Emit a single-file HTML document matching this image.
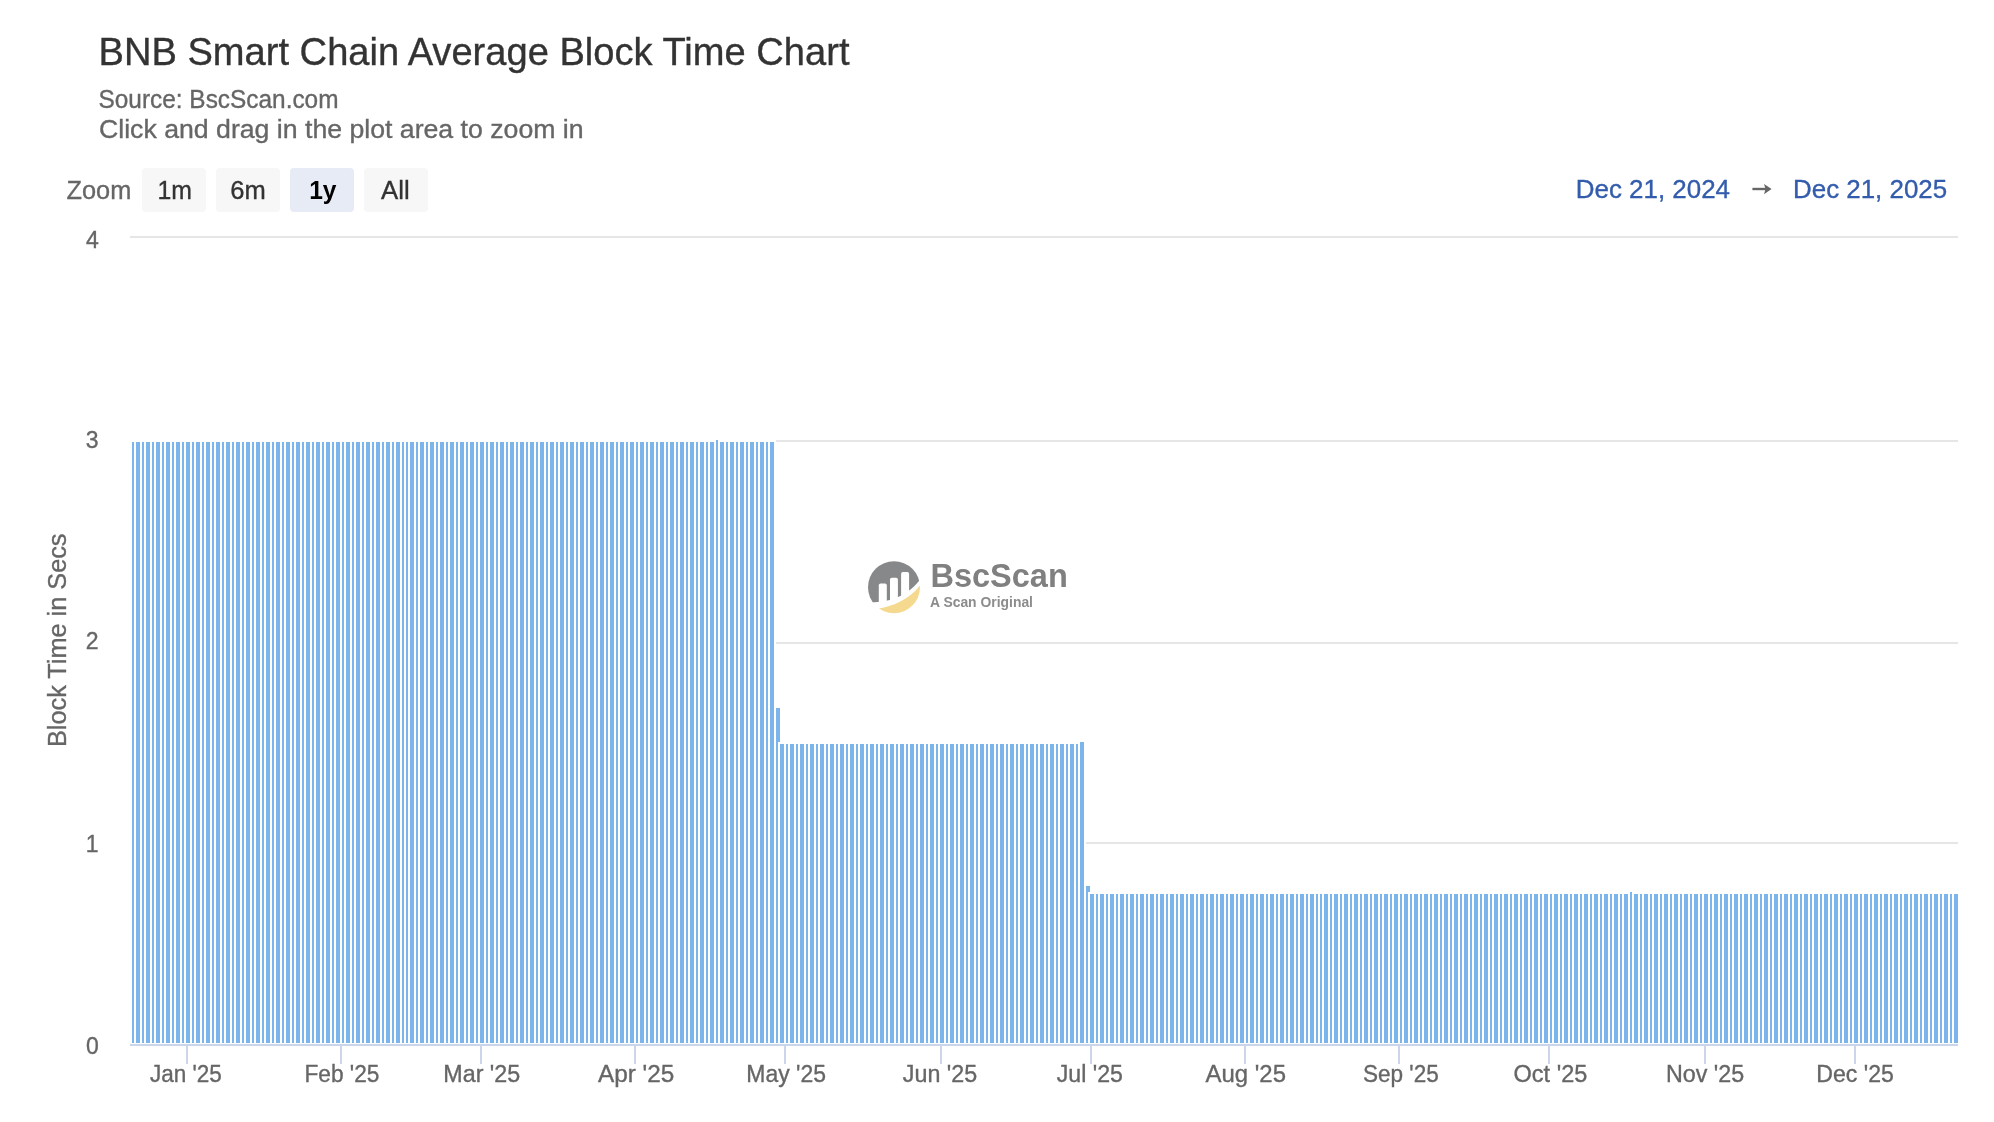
<!DOCTYPE html>
<html><head><meta charset="utf-8"><style>
html,body{margin:0;padding:0;background:#fff;}
body{width:1994px;height:1122px;overflow:hidden;}
svg{display:block;will-change:transform;font-family:"Liberation Sans",sans-serif;}
.xl{font-size:23.3px;fill:#666;stroke:#666;stroke-width:0.35px;}
.yl{font-size:23px;fill:#666;stroke:#666;stroke-width:0.35px;}
</style></head><body>
<svg width="1994" height="1122" viewBox="0 0 1994 1122">
<rect width="1994" height="1122" fill="#fff"/>
<text x="98.5" y="65" font-size="38.5" fill="#333" textLength="751" lengthAdjust="spacingAndGlyphs" stroke="#333" stroke-width="0.35">BNB Smart Chain Average Block Time Chart</text>
<text x="98.5" y="108" font-size="25.6" fill="#666" textLength="240" lengthAdjust="spacingAndGlyphs" stroke="#666" stroke-width="0.35">Source: BscScan.com</text>
<text x="99" y="137.6" font-size="25.6" fill="#666" textLength="484.6" lengthAdjust="spacingAndGlyphs" stroke="#666" stroke-width="0.35">Click and drag in the plot area to zoom in</text>
<text x="66.5" y="199" font-size="26" fill="#666" textLength="64.8" lengthAdjust="spacingAndGlyphs" stroke="#666" stroke-width="0.35">Zoom</text>
<rect x="142" y="168" width="64" height="44" rx="4" fill="#f7f7f7"/>
<rect x="216" y="168" width="64" height="44" rx="4" fill="#f7f7f7"/>
<rect x="290" y="168" width="64" height="44" rx="4" fill="#e6ebf5"/>
<rect x="364" y="168" width="64" height="44" rx="4" fill="#f7f7f7"/>
<text x="157.4" y="199" font-size="26" fill="#333" textLength="34.5" lengthAdjust="spacingAndGlyphs" stroke="#333" stroke-width="0.35">1m</text>
<text x="230.2" y="199" font-size="26" fill="#333" textLength="35.5" lengthAdjust="spacingAndGlyphs" stroke="#333" stroke-width="0.35">6m</text>
<text x="309.2" y="199" font-size="26" font-weight="bold" fill="#000" textLength="27.3" lengthAdjust="spacingAndGlyphs">1y</text>
<text x="381" y="199" font-size="26" fill="#333" textLength="28.7" lengthAdjust="spacingAndGlyphs" stroke="#333" stroke-width="0.35">All</text>
<text x="1575.8" y="198" font-size="25.6" fill="#335cad" textLength="154.2" lengthAdjust="spacingAndGlyphs" stroke="#335cad" stroke-width="0.35">Dec 21, 2024</text>
<text x="1793" y="198" font-size="25.6" fill="#335cad" textLength="154.2" lengthAdjust="spacingAndGlyphs" stroke="#335cad" stroke-width="0.35">Dec 21, 2025</text>
<path d="M1752.4 189H1767" stroke="#666" stroke-width="2.4"/><path d="M1764 184L1771.6 189L1764 194.2L1765.5 189Z" fill="#666"/>
<g shape-rendering="crispEdges">
<rect x="130" y="236" width="1828" height="2" fill="#e6e6e6"/>
<rect x="130" y="440" width="1828" height="2" fill="#e6e6e6"/>
<rect x="130" y="642" width="1828" height="2" fill="#e6e6e6"/>
<rect x="130" y="842" width="1828" height="2" fill="#e6e6e6"/>
</g>
<text x="98.7" y="247.7" text-anchor="end" class="yl">4</text>
<text x="98.5" y="448.4" text-anchor="end" class="yl">3</text>
<text x="98.5" y="649.4" text-anchor="end" class="yl">2</text>
<text x="98.5" y="851.8" text-anchor="end" class="yl">1</text>
<text x="98.8" y="1054" text-anchor="end" class="yl">0</text>
<text transform="translate(66.4,747) rotate(-90)" font-size="26.5" fill="#666" textLength="213.5" lengthAdjust="spacingAndGlyphs" stroke="#666" stroke-width="0.35">Block Time in Secs</text>
<svg x="0" y="0" width="1958" height="1122" overflow="hidden">
<g shape-rendering="crispEdges">
<rect x="131" y="441" width="4" height="603" fill="#7cb5ec" stroke="#fff" stroke-width="2"/>
<rect x="135" y="441" width="6" height="603" fill="#7cb5ec" stroke="#fff" stroke-width="2"/>
<rect x="141" y="441" width="4" height="603" fill="#7cb5ec" stroke="#fff" stroke-width="2"/>
<rect x="145" y="441" width="6" height="603" fill="#7cb5ec" stroke="#fff" stroke-width="2"/>
<rect x="151" y="441" width="4" height="603" fill="#7cb5ec" stroke="#fff" stroke-width="2"/>
<rect x="155" y="441" width="6" height="603" fill="#7cb5ec" stroke="#fff" stroke-width="2"/>
<rect x="161" y="441" width="4" height="603" fill="#7cb5ec" stroke="#fff" stroke-width="2"/>
<rect x="165" y="441" width="6" height="603" fill="#7cb5ec" stroke="#fff" stroke-width="2"/>
<rect x="171" y="441" width="4" height="603" fill="#7cb5ec" stroke="#fff" stroke-width="2"/>
<rect x="175" y="441" width="6" height="603" fill="#7cb5ec" stroke="#fff" stroke-width="2"/>
<rect x="181" y="441" width="4" height="603" fill="#7cb5ec" stroke="#fff" stroke-width="2"/>
<rect x="185" y="441" width="6" height="603" fill="#7cb5ec" stroke="#fff" stroke-width="2"/>
<rect x="191" y="441" width="4" height="603" fill="#7cb5ec" stroke="#fff" stroke-width="2"/>
<rect x="195" y="441" width="6" height="603" fill="#7cb5ec" stroke="#fff" stroke-width="2"/>
<rect x="201" y="441" width="4" height="603" fill="#7cb5ec" stroke="#fff" stroke-width="2"/>
<rect x="205" y="441" width="6" height="603" fill="#7cb5ec" stroke="#fff" stroke-width="2"/>
<rect x="211" y="441" width="4" height="603" fill="#7cb5ec" stroke="#fff" stroke-width="2"/>
<rect x="215" y="441" width="6" height="603" fill="#7cb5ec" stroke="#fff" stroke-width="2"/>
<rect x="221" y="441" width="4" height="603" fill="#7cb5ec" stroke="#fff" stroke-width="2"/>
<rect x="225" y="441" width="6" height="603" fill="#7cb5ec" stroke="#fff" stroke-width="2"/>
<rect x="231" y="441" width="4" height="603" fill="#7cb5ec" stroke="#fff" stroke-width="2"/>
<rect x="235" y="441" width="6" height="603" fill="#7cb5ec" stroke="#fff" stroke-width="2"/>
<rect x="241" y="441" width="4" height="603" fill="#7cb5ec" stroke="#fff" stroke-width="2"/>
<rect x="245" y="441" width="6" height="603" fill="#7cb5ec" stroke="#fff" stroke-width="2"/>
<rect x="251" y="441" width="4" height="603" fill="#7cb5ec" stroke="#fff" stroke-width="2"/>
<rect x="255" y="441" width="6" height="603" fill="#7cb5ec" stroke="#fff" stroke-width="2"/>
<rect x="261" y="441" width="4" height="603" fill="#7cb5ec" stroke="#fff" stroke-width="2"/>
<rect x="265" y="441" width="6" height="603" fill="#7cb5ec" stroke="#fff" stroke-width="2"/>
<rect x="271" y="441" width="4" height="603" fill="#7cb5ec" stroke="#fff" stroke-width="2"/>
<rect x="275" y="441" width="6" height="603" fill="#7cb5ec" stroke="#fff" stroke-width="2"/>
<rect x="281" y="441" width="4" height="603" fill="#7cb5ec" stroke="#fff" stroke-width="2"/>
<rect x="285" y="441" width="6" height="603" fill="#7cb5ec" stroke="#fff" stroke-width="2"/>
<rect x="291" y="441" width="4" height="603" fill="#7cb5ec" stroke="#fff" stroke-width="2"/>
<rect x="295" y="441" width="6" height="603" fill="#7cb5ec" stroke="#fff" stroke-width="2"/>
<rect x="301" y="441" width="4" height="603" fill="#7cb5ec" stroke="#fff" stroke-width="2"/>
<rect x="305" y="441" width="6" height="603" fill="#7cb5ec" stroke="#fff" stroke-width="2"/>
<rect x="311" y="441" width="4" height="603" fill="#7cb5ec" stroke="#fff" stroke-width="2"/>
<rect x="315" y="441" width="6" height="603" fill="#7cb5ec" stroke="#fff" stroke-width="2"/>
<rect x="321" y="441" width="4" height="603" fill="#7cb5ec" stroke="#fff" stroke-width="2"/>
<rect x="325" y="441" width="6" height="603" fill="#7cb5ec" stroke="#fff" stroke-width="2"/>
<rect x="331" y="441" width="4" height="603" fill="#7cb5ec" stroke="#fff" stroke-width="2"/>
<rect x="335" y="441" width="6" height="603" fill="#7cb5ec" stroke="#fff" stroke-width="2"/>
<rect x="341" y="441" width="4" height="603" fill="#7cb5ec" stroke="#fff" stroke-width="2"/>
<rect x="345" y="441" width="6" height="603" fill="#7cb5ec" stroke="#fff" stroke-width="2"/>
<rect x="351" y="441" width="4" height="603" fill="#7cb5ec" stroke="#fff" stroke-width="2"/>
<rect x="355" y="441" width="6" height="603" fill="#7cb5ec" stroke="#fff" stroke-width="2"/>
<rect x="361" y="441" width="4" height="603" fill="#7cb5ec" stroke="#fff" stroke-width="2"/>
<rect x="365" y="441" width="6" height="603" fill="#7cb5ec" stroke="#fff" stroke-width="2"/>
<rect x="371" y="441" width="4" height="603" fill="#7cb5ec" stroke="#fff" stroke-width="2"/>
<rect x="375" y="441" width="6" height="603" fill="#7cb5ec" stroke="#fff" stroke-width="2"/>
<rect x="381" y="441" width="4" height="603" fill="#7cb5ec" stroke="#fff" stroke-width="2"/>
<rect x="385" y="441" width="6" height="603" fill="#7cb5ec" stroke="#fff" stroke-width="2"/>
<rect x="391" y="441" width="4" height="603" fill="#7cb5ec" stroke="#fff" stroke-width="2"/>
<rect x="395" y="441" width="6" height="603" fill="#7cb5ec" stroke="#fff" stroke-width="2"/>
<rect x="401" y="441" width="4" height="603" fill="#7cb5ec" stroke="#fff" stroke-width="2"/>
<rect x="405" y="441" width="4" height="603" fill="#7cb5ec" stroke="#fff" stroke-width="2"/>
<rect x="409" y="441" width="6" height="603" fill="#7cb5ec" stroke="#fff" stroke-width="2"/>
<rect x="415" y="441" width="4" height="603" fill="#7cb5ec" stroke="#fff" stroke-width="2"/>
<rect x="419" y="441" width="6" height="603" fill="#7cb5ec" stroke="#fff" stroke-width="2"/>
<rect x="425" y="441" width="4" height="603" fill="#7cb5ec" stroke="#fff" stroke-width="2"/>
<rect x="429" y="441" width="6" height="603" fill="#7cb5ec" stroke="#fff" stroke-width="2"/>
<rect x="435" y="441" width="4" height="603" fill="#7cb5ec" stroke="#fff" stroke-width="2"/>
<rect x="439" y="441" width="6" height="603" fill="#7cb5ec" stroke="#fff" stroke-width="2"/>
<rect x="445" y="441" width="4" height="603" fill="#7cb5ec" stroke="#fff" stroke-width="2"/>
<rect x="449" y="441" width="6" height="603" fill="#7cb5ec" stroke="#fff" stroke-width="2"/>
<rect x="455" y="441" width="4" height="603" fill="#7cb5ec" stroke="#fff" stroke-width="2"/>
<rect x="459" y="441" width="6" height="603" fill="#7cb5ec" stroke="#fff" stroke-width="2"/>
<rect x="465" y="441" width="4" height="603" fill="#7cb5ec" stroke="#fff" stroke-width="2"/>
<rect x="469" y="441" width="6" height="603" fill="#7cb5ec" stroke="#fff" stroke-width="2"/>
<rect x="475" y="441" width="4" height="603" fill="#7cb5ec" stroke="#fff" stroke-width="2"/>
<rect x="479" y="441" width="6" height="603" fill="#7cb5ec" stroke="#fff" stroke-width="2"/>
<rect x="485" y="441" width="4" height="603" fill="#7cb5ec" stroke="#fff" stroke-width="2"/>
<rect x="489" y="441" width="6" height="603" fill="#7cb5ec" stroke="#fff" stroke-width="2"/>
<rect x="495" y="441" width="4" height="603" fill="#7cb5ec" stroke="#fff" stroke-width="2"/>
<rect x="499" y="441" width="6" height="603" fill="#7cb5ec" stroke="#fff" stroke-width="2"/>
<rect x="505" y="441" width="4" height="603" fill="#7cb5ec" stroke="#fff" stroke-width="2"/>
<rect x="509" y="441" width="6" height="603" fill="#7cb5ec" stroke="#fff" stroke-width="2"/>
<rect x="515" y="441" width="4" height="603" fill="#7cb5ec" stroke="#fff" stroke-width="2"/>
<rect x="519" y="441" width="6" height="603" fill="#7cb5ec" stroke="#fff" stroke-width="2"/>
<rect x="525" y="441" width="4" height="603" fill="#7cb5ec" stroke="#fff" stroke-width="2"/>
<rect x="529" y="441" width="6" height="603" fill="#7cb5ec" stroke="#fff" stroke-width="2"/>
<rect x="535" y="441" width="4" height="603" fill="#7cb5ec" stroke="#fff" stroke-width="2"/>
<rect x="539" y="441" width="6" height="603" fill="#7cb5ec" stroke="#fff" stroke-width="2"/>
<rect x="545" y="441" width="4" height="603" fill="#7cb5ec" stroke="#fff" stroke-width="2"/>
<rect x="549" y="441" width="6" height="603" fill="#7cb5ec" stroke="#fff" stroke-width="2"/>
<rect x="555" y="441" width="4" height="603" fill="#7cb5ec" stroke="#fff" stroke-width="2"/>
<rect x="559" y="441" width="6" height="603" fill="#7cb5ec" stroke="#fff" stroke-width="2"/>
<rect x="565" y="441" width="4" height="603" fill="#7cb5ec" stroke="#fff" stroke-width="2"/>
<rect x="569" y="441" width="6" height="603" fill="#7cb5ec" stroke="#fff" stroke-width="2"/>
<rect x="575" y="441" width="4" height="603" fill="#7cb5ec" stroke="#fff" stroke-width="2"/>
<rect x="579" y="441" width="6" height="603" fill="#7cb5ec" stroke="#fff" stroke-width="2"/>
<rect x="585" y="441" width="4" height="603" fill="#7cb5ec" stroke="#fff" stroke-width="2"/>
<rect x="589" y="441" width="6" height="603" fill="#7cb5ec" stroke="#fff" stroke-width="2"/>
<rect x="595" y="441" width="4" height="603" fill="#7cb5ec" stroke="#fff" stroke-width="2"/>
<rect x="599" y="441" width="6" height="603" fill="#7cb5ec" stroke="#fff" stroke-width="2"/>
<rect x="605" y="441" width="4" height="603" fill="#7cb5ec" stroke="#fff" stroke-width="2"/>
<rect x="609" y="441" width="6" height="603" fill="#7cb5ec" stroke="#fff" stroke-width="2"/>
<rect x="615" y="441" width="4" height="603" fill="#7cb5ec" stroke="#fff" stroke-width="2"/>
<rect x="619" y="441" width="6" height="603" fill="#7cb5ec" stroke="#fff" stroke-width="2"/>
<rect x="625" y="441" width="4" height="603" fill="#7cb5ec" stroke="#fff" stroke-width="2"/>
<rect x="629" y="441" width="6" height="603" fill="#7cb5ec" stroke="#fff" stroke-width="2"/>
<rect x="635" y="441" width="4" height="603" fill="#7cb5ec" stroke="#fff" stroke-width="2"/>
<rect x="639" y="441" width="6" height="603" fill="#7cb5ec" stroke="#fff" stroke-width="2"/>
<rect x="645" y="441" width="4" height="603" fill="#7cb5ec" stroke="#fff" stroke-width="2"/>
<rect x="649" y="441" width="6" height="603" fill="#7cb5ec" stroke="#fff" stroke-width="2"/>
<rect x="655" y="441" width="4" height="603" fill="#7cb5ec" stroke="#fff" stroke-width="2"/>
<rect x="659" y="441" width="6" height="603" fill="#7cb5ec" stroke="#fff" stroke-width="2"/>
<rect x="665" y="441" width="4" height="603" fill="#7cb5ec" stroke="#fff" stroke-width="2"/>
<rect x="669" y="441" width="6" height="603" fill="#7cb5ec" stroke="#fff" stroke-width="2"/>
<rect x="675" y="441" width="4" height="603" fill="#7cb5ec" stroke="#fff" stroke-width="2"/>
<rect x="679" y="441" width="6" height="603" fill="#7cb5ec" stroke="#fff" stroke-width="2"/>
<rect x="685" y="441" width="4" height="603" fill="#7cb5ec" stroke="#fff" stroke-width="2"/>
<rect x="689" y="441" width="6" height="603" fill="#7cb5ec" stroke="#fff" stroke-width="2"/>
<rect x="695" y="441" width="4" height="603" fill="#7cb5ec" stroke="#fff" stroke-width="2"/>
<rect x="699" y="441" width="6" height="603" fill="#7cb5ec" stroke="#fff" stroke-width="2"/>
<rect x="705" y="441" width="4" height="603" fill="#7cb5ec" stroke="#fff" stroke-width="2"/>
<rect x="709" y="441" width="6" height="603" fill="#7cb5ec" stroke="#fff" stroke-width="2"/>
<rect x="715" y="439" width="4" height="605" fill="#7cb5ec" stroke="#fff" stroke-width="2"/>
<rect x="719" y="441" width="6" height="603" fill="#7cb5ec" stroke="#fff" stroke-width="2"/>
<rect x="725" y="441" width="4" height="603" fill="#7cb5ec" stroke="#fff" stroke-width="2"/>
<rect x="729" y="441" width="6" height="603" fill="#7cb5ec" stroke="#fff" stroke-width="2"/>
<rect x="735" y="441" width="4" height="603" fill="#7cb5ec" stroke="#fff" stroke-width="2"/>
<rect x="739" y="441" width="6" height="603" fill="#7cb5ec" stroke="#fff" stroke-width="2"/>
<rect x="745" y="441" width="4" height="603" fill="#7cb5ec" stroke="#fff" stroke-width="2"/>
<rect x="749" y="441" width="6" height="603" fill="#7cb5ec" stroke="#fff" stroke-width="2"/>
<rect x="755" y="441" width="4" height="603" fill="#7cb5ec" stroke="#fff" stroke-width="2"/>
<rect x="759" y="441" width="6" height="603" fill="#7cb5ec" stroke="#fff" stroke-width="2"/>
<rect x="765" y="441" width="4" height="603" fill="#7cb5ec" stroke="#fff" stroke-width="2"/>
<rect x="769" y="441" width="6" height="603" fill="#7cb5ec" stroke="#fff" stroke-width="2"/>
<rect x="775" y="707" width="6" height="337" fill="#7cb5ec" stroke="#fff" stroke-width="2"/>
<rect x="779" y="743" width="6" height="301" fill="#7cb5ec" stroke="#fff" stroke-width="2"/>
<rect x="785" y="743" width="4" height="301" fill="#7cb5ec" stroke="#fff" stroke-width="2"/>
<rect x="789" y="743" width="6" height="301" fill="#7cb5ec" stroke="#fff" stroke-width="2"/>
<rect x="795" y="743" width="4" height="301" fill="#7cb5ec" stroke="#fff" stroke-width="2"/>
<rect x="799" y="743" width="6" height="301" fill="#7cb5ec" stroke="#fff" stroke-width="2"/>
<rect x="805" y="743" width="4" height="301" fill="#7cb5ec" stroke="#fff" stroke-width="2"/>
<rect x="809" y="743" width="6" height="301" fill="#7cb5ec" stroke="#fff" stroke-width="2"/>
<rect x="815" y="743" width="4" height="301" fill="#7cb5ec" stroke="#fff" stroke-width="2"/>
<rect x="819" y="743" width="6" height="301" fill="#7cb5ec" stroke="#fff" stroke-width="2"/>
<rect x="825" y="743" width="4" height="301" fill="#7cb5ec" stroke="#fff" stroke-width="2"/>
<rect x="829" y="743" width="6" height="301" fill="#7cb5ec" stroke="#fff" stroke-width="2"/>
<rect x="835" y="743" width="4" height="301" fill="#7cb5ec" stroke="#fff" stroke-width="2"/>
<rect x="839" y="743" width="6" height="301" fill="#7cb5ec" stroke="#fff" stroke-width="2"/>
<rect x="845" y="743" width="4" height="301" fill="#7cb5ec" stroke="#fff" stroke-width="2"/>
<rect x="849" y="743" width="6" height="301" fill="#7cb5ec" stroke="#fff" stroke-width="2"/>
<rect x="855" y="743" width="4" height="301" fill="#7cb5ec" stroke="#fff" stroke-width="2"/>
<rect x="859" y="743" width="6" height="301" fill="#7cb5ec" stroke="#fff" stroke-width="2"/>
<rect x="865" y="743" width="4" height="301" fill="#7cb5ec" stroke="#fff" stroke-width="2"/>
<rect x="869" y="743" width="6" height="301" fill="#7cb5ec" stroke="#fff" stroke-width="2"/>
<rect x="875" y="743" width="4" height="301" fill="#7cb5ec" stroke="#fff" stroke-width="2"/>
<rect x="879" y="743" width="6" height="301" fill="#7cb5ec" stroke="#fff" stroke-width="2"/>
<rect x="885" y="743" width="4" height="301" fill="#7cb5ec" stroke="#fff" stroke-width="2"/>
<rect x="889" y="743" width="6" height="301" fill="#7cb5ec" stroke="#fff" stroke-width="2"/>
<rect x="895" y="743" width="4" height="301" fill="#7cb5ec" stroke="#fff" stroke-width="2"/>
<rect x="899" y="743" width="6" height="301" fill="#7cb5ec" stroke="#fff" stroke-width="2"/>
<rect x="905" y="743" width="4" height="301" fill="#7cb5ec" stroke="#fff" stroke-width="2"/>
<rect x="909" y="743" width="6" height="301" fill="#7cb5ec" stroke="#fff" stroke-width="2"/>
<rect x="915" y="743" width="4" height="301" fill="#7cb5ec" stroke="#fff" stroke-width="2"/>
<rect x="919" y="743" width="6" height="301" fill="#7cb5ec" stroke="#fff" stroke-width="2"/>
<rect x="925" y="743" width="4" height="301" fill="#7cb5ec" stroke="#fff" stroke-width="2"/>
<rect x="929" y="743" width="6" height="301" fill="#7cb5ec" stroke="#fff" stroke-width="2"/>
<rect x="935" y="743" width="4" height="301" fill="#7cb5ec" stroke="#fff" stroke-width="2"/>
<rect x="939" y="743" width="6" height="301" fill="#7cb5ec" stroke="#fff" stroke-width="2"/>
<rect x="945" y="743" width="4" height="301" fill="#7cb5ec" stroke="#fff" stroke-width="2"/>
<rect x="949" y="743" width="6" height="301" fill="#7cb5ec" stroke="#fff" stroke-width="2"/>
<rect x="955" y="743" width="4" height="301" fill="#7cb5ec" stroke="#fff" stroke-width="2"/>
<rect x="959" y="743" width="6" height="301" fill="#7cb5ec" stroke="#fff" stroke-width="2"/>
<rect x="965" y="743" width="4" height="301" fill="#7cb5ec" stroke="#fff" stroke-width="2"/>
<rect x="969" y="743" width="6" height="301" fill="#7cb5ec" stroke="#fff" stroke-width="2"/>
<rect x="975" y="743" width="4" height="301" fill="#7cb5ec" stroke="#fff" stroke-width="2"/>
<rect x="979" y="743" width="6" height="301" fill="#7cb5ec" stroke="#fff" stroke-width="2"/>
<rect x="985" y="743" width="4" height="301" fill="#7cb5ec" stroke="#fff" stroke-width="2"/>
<rect x="989" y="743" width="6" height="301" fill="#7cb5ec" stroke="#fff" stroke-width="2"/>
<rect x="995" y="743" width="4" height="301" fill="#7cb5ec" stroke="#fff" stroke-width="2"/>
<rect x="999" y="743" width="6" height="301" fill="#7cb5ec" stroke="#fff" stroke-width="2"/>
<rect x="1005" y="743" width="4" height="301" fill="#7cb5ec" stroke="#fff" stroke-width="2"/>
<rect x="1009" y="743" width="6" height="301" fill="#7cb5ec" stroke="#fff" stroke-width="2"/>
<rect x="1015" y="743" width="4" height="301" fill="#7cb5ec" stroke="#fff" stroke-width="2"/>
<rect x="1019" y="743" width="6" height="301" fill="#7cb5ec" stroke="#fff" stroke-width="2"/>
<rect x="1025" y="743" width="4" height="301" fill="#7cb5ec" stroke="#fff" stroke-width="2"/>
<rect x="1029" y="743" width="6" height="301" fill="#7cb5ec" stroke="#fff" stroke-width="2"/>
<rect x="1035" y="743" width="4" height="301" fill="#7cb5ec" stroke="#fff" stroke-width="2"/>
<rect x="1039" y="743" width="6" height="301" fill="#7cb5ec" stroke="#fff" stroke-width="2"/>
<rect x="1045" y="743" width="4" height="301" fill="#7cb5ec" stroke="#fff" stroke-width="2"/>
<rect x="1049" y="743" width="6" height="301" fill="#7cb5ec" stroke="#fff" stroke-width="2"/>
<rect x="1055" y="743" width="4" height="301" fill="#7cb5ec" stroke="#fff" stroke-width="2"/>
<rect x="1059" y="743" width="6" height="301" fill="#7cb5ec" stroke="#fff" stroke-width="2"/>
<rect x="1065" y="743" width="4" height="301" fill="#7cb5ec" stroke="#fff" stroke-width="2"/>
<rect x="1069" y="743" width="6" height="301" fill="#7cb5ec" stroke="#fff" stroke-width="2"/>
<rect x="1075" y="743" width="4" height="301" fill="#7cb5ec" stroke="#fff" stroke-width="2"/>
<rect x="1079" y="741" width="6" height="303" fill="#7cb5ec" stroke="#fff" stroke-width="2"/>
<rect x="1085" y="885" width="6" height="159" fill="#7cb5ec" stroke="#fff" stroke-width="2"/>
<rect x="1089" y="893" width="6" height="151" fill="#7cb5ec" stroke="#fff" stroke-width="2"/>
<rect x="1095" y="893" width="4" height="151" fill="#7cb5ec" stroke="#fff" stroke-width="2"/>
<rect x="1099" y="893" width="6" height="151" fill="#7cb5ec" stroke="#fff" stroke-width="2"/>
<rect x="1105" y="893" width="4" height="151" fill="#7cb5ec" stroke="#fff" stroke-width="2"/>
<rect x="1109" y="893" width="6" height="151" fill="#7cb5ec" stroke="#fff" stroke-width="2"/>
<rect x="1115" y="893" width="4" height="151" fill="#7cb5ec" stroke="#fff" stroke-width="2"/>
<rect x="1119" y="893" width="6" height="151" fill="#7cb5ec" stroke="#fff" stroke-width="2"/>
<rect x="1125" y="893" width="4" height="151" fill="#7cb5ec" stroke="#fff" stroke-width="2"/>
<rect x="1129" y="893" width="6" height="151" fill="#7cb5ec" stroke="#fff" stroke-width="2"/>
<rect x="1135" y="893" width="4" height="151" fill="#7cb5ec" stroke="#fff" stroke-width="2"/>
<rect x="1139" y="893" width="6" height="151" fill="#7cb5ec" stroke="#fff" stroke-width="2"/>
<rect x="1145" y="893" width="4" height="151" fill="#7cb5ec" stroke="#fff" stroke-width="2"/>
<rect x="1149" y="893" width="6" height="151" fill="#7cb5ec" stroke="#fff" stroke-width="2"/>
<rect x="1155" y="893" width="4" height="151" fill="#7cb5ec" stroke="#fff" stroke-width="2"/>
<rect x="1159" y="893" width="6" height="151" fill="#7cb5ec" stroke="#fff" stroke-width="2"/>
<rect x="1165" y="893" width="4" height="151" fill="#7cb5ec" stroke="#fff" stroke-width="2"/>
<rect x="1169" y="893" width="6" height="151" fill="#7cb5ec" stroke="#fff" stroke-width="2"/>
<rect x="1175" y="893" width="4" height="151" fill="#7cb5ec" stroke="#fff" stroke-width="2"/>
<rect x="1179" y="893" width="6" height="151" fill="#7cb5ec" stroke="#fff" stroke-width="2"/>
<rect x="1185" y="893" width="4" height="151" fill="#7cb5ec" stroke="#fff" stroke-width="2"/>
<rect x="1189" y="893" width="6" height="151" fill="#7cb5ec" stroke="#fff" stroke-width="2"/>
<rect x="1195" y="893" width="4" height="151" fill="#7cb5ec" stroke="#fff" stroke-width="2"/>
<rect x="1199" y="893" width="6" height="151" fill="#7cb5ec" stroke="#fff" stroke-width="2"/>
<rect x="1205" y="893" width="4" height="151" fill="#7cb5ec" stroke="#fff" stroke-width="2"/>
<rect x="1209" y="893" width="6" height="151" fill="#7cb5ec" stroke="#fff" stroke-width="2"/>
<rect x="1215" y="893" width="4" height="151" fill="#7cb5ec" stroke="#fff" stroke-width="2"/>
<rect x="1219" y="893" width="6" height="151" fill="#7cb5ec" stroke="#fff" stroke-width="2"/>
<rect x="1225" y="893" width="4" height="151" fill="#7cb5ec" stroke="#fff" stroke-width="2"/>
<rect x="1229" y="893" width="6" height="151" fill="#7cb5ec" stroke="#fff" stroke-width="2"/>
<rect x="1235" y="893" width="4" height="151" fill="#7cb5ec" stroke="#fff" stroke-width="2"/>
<rect x="1239" y="893" width="6" height="151" fill="#7cb5ec" stroke="#fff" stroke-width="2"/>
<rect x="1245" y="893" width="4" height="151" fill="#7cb5ec" stroke="#fff" stroke-width="2"/>
<rect x="1249" y="893" width="6" height="151" fill="#7cb5ec" stroke="#fff" stroke-width="2"/>
<rect x="1255" y="893" width="4" height="151" fill="#7cb5ec" stroke="#fff" stroke-width="2"/>
<rect x="1259" y="893" width="6" height="151" fill="#7cb5ec" stroke="#fff" stroke-width="2"/>
<rect x="1265" y="893" width="4" height="151" fill="#7cb5ec" stroke="#fff" stroke-width="2"/>
<rect x="1269" y="893" width="6" height="151" fill="#7cb5ec" stroke="#fff" stroke-width="2"/>
<rect x="1275" y="893" width="4" height="151" fill="#7cb5ec" stroke="#fff" stroke-width="2"/>
<rect x="1279" y="893" width="6" height="151" fill="#7cb5ec" stroke="#fff" stroke-width="2"/>
<rect x="1285" y="893" width="4" height="151" fill="#7cb5ec" stroke="#fff" stroke-width="2"/>
<rect x="1289" y="893" width="6" height="151" fill="#7cb5ec" stroke="#fff" stroke-width="2"/>
<rect x="1295" y="893" width="4" height="151" fill="#7cb5ec" stroke="#fff" stroke-width="2"/>
<rect x="1299" y="893" width="6" height="151" fill="#7cb5ec" stroke="#fff" stroke-width="2"/>
<rect x="1305" y="893" width="4" height="151" fill="#7cb5ec" stroke="#fff" stroke-width="2"/>
<rect x="1309" y="893" width="6" height="151" fill="#7cb5ec" stroke="#fff" stroke-width="2"/>
<rect x="1315" y="893" width="4" height="151" fill="#7cb5ec" stroke="#fff" stroke-width="2"/>
<rect x="1319" y="893" width="4" height="151" fill="#7cb5ec" stroke="#fff" stroke-width="2"/>
<rect x="1323" y="893" width="6" height="151" fill="#7cb5ec" stroke="#fff" stroke-width="2"/>
<rect x="1329" y="893" width="4" height="151" fill="#7cb5ec" stroke="#fff" stroke-width="2"/>
<rect x="1333" y="893" width="6" height="151" fill="#7cb5ec" stroke="#fff" stroke-width="2"/>
<rect x="1339" y="893" width="4" height="151" fill="#7cb5ec" stroke="#fff" stroke-width="2"/>
<rect x="1343" y="893" width="6" height="151" fill="#7cb5ec" stroke="#fff" stroke-width="2"/>
<rect x="1349" y="893" width="4" height="151" fill="#7cb5ec" stroke="#fff" stroke-width="2"/>
<rect x="1353" y="893" width="6" height="151" fill="#7cb5ec" stroke="#fff" stroke-width="2"/>
<rect x="1359" y="893" width="4" height="151" fill="#7cb5ec" stroke="#fff" stroke-width="2"/>
<rect x="1363" y="893" width="6" height="151" fill="#7cb5ec" stroke="#fff" stroke-width="2"/>
<rect x="1369" y="893" width="4" height="151" fill="#7cb5ec" stroke="#fff" stroke-width="2"/>
<rect x="1373" y="893" width="6" height="151" fill="#7cb5ec" stroke="#fff" stroke-width="2"/>
<rect x="1379" y="893" width="4" height="151" fill="#7cb5ec" stroke="#fff" stroke-width="2"/>
<rect x="1383" y="893" width="6" height="151" fill="#7cb5ec" stroke="#fff" stroke-width="2"/>
<rect x="1389" y="893" width="4" height="151" fill="#7cb5ec" stroke="#fff" stroke-width="2"/>
<rect x="1393" y="893" width="6" height="151" fill="#7cb5ec" stroke="#fff" stroke-width="2"/>
<rect x="1399" y="893" width="4" height="151" fill="#7cb5ec" stroke="#fff" stroke-width="2"/>
<rect x="1403" y="893" width="6" height="151" fill="#7cb5ec" stroke="#fff" stroke-width="2"/>
<rect x="1409" y="893" width="4" height="151" fill="#7cb5ec" stroke="#fff" stroke-width="2"/>
<rect x="1413" y="893" width="6" height="151" fill="#7cb5ec" stroke="#fff" stroke-width="2"/>
<rect x="1419" y="893" width="4" height="151" fill="#7cb5ec" stroke="#fff" stroke-width="2"/>
<rect x="1423" y="893" width="6" height="151" fill="#7cb5ec" stroke="#fff" stroke-width="2"/>
<rect x="1429" y="893" width="4" height="151" fill="#7cb5ec" stroke="#fff" stroke-width="2"/>
<rect x="1433" y="893" width="6" height="151" fill="#7cb5ec" stroke="#fff" stroke-width="2"/>
<rect x="1439" y="893" width="4" height="151" fill="#7cb5ec" stroke="#fff" stroke-width="2"/>
<rect x="1443" y="893" width="6" height="151" fill="#7cb5ec" stroke="#fff" stroke-width="2"/>
<rect x="1449" y="893" width="4" height="151" fill="#7cb5ec" stroke="#fff" stroke-width="2"/>
<rect x="1453" y="893" width="6" height="151" fill="#7cb5ec" stroke="#fff" stroke-width="2"/>
<rect x="1459" y="893" width="4" height="151" fill="#7cb5ec" stroke="#fff" stroke-width="2"/>
<rect x="1463" y="893" width="6" height="151" fill="#7cb5ec" stroke="#fff" stroke-width="2"/>
<rect x="1469" y="893" width="4" height="151" fill="#7cb5ec" stroke="#fff" stroke-width="2"/>
<rect x="1473" y="893" width="6" height="151" fill="#7cb5ec" stroke="#fff" stroke-width="2"/>
<rect x="1479" y="893" width="4" height="151" fill="#7cb5ec" stroke="#fff" stroke-width="2"/>
<rect x="1483" y="893" width="6" height="151" fill="#7cb5ec" stroke="#fff" stroke-width="2"/>
<rect x="1489" y="893" width="4" height="151" fill="#7cb5ec" stroke="#fff" stroke-width="2"/>
<rect x="1493" y="893" width="6" height="151" fill="#7cb5ec" stroke="#fff" stroke-width="2"/>
<rect x="1499" y="893" width="4" height="151" fill="#7cb5ec" stroke="#fff" stroke-width="2"/>
<rect x="1503" y="893" width="6" height="151" fill="#7cb5ec" stroke="#fff" stroke-width="2"/>
<rect x="1509" y="893" width="4" height="151" fill="#7cb5ec" stroke="#fff" stroke-width="2"/>
<rect x="1513" y="893" width="6" height="151" fill="#7cb5ec" stroke="#fff" stroke-width="2"/>
<rect x="1519" y="893" width="4" height="151" fill="#7cb5ec" stroke="#fff" stroke-width="2"/>
<rect x="1523" y="893" width="6" height="151" fill="#7cb5ec" stroke="#fff" stroke-width="2"/>
<rect x="1529" y="893" width="4" height="151" fill="#7cb5ec" stroke="#fff" stroke-width="2"/>
<rect x="1533" y="893" width="6" height="151" fill="#7cb5ec" stroke="#fff" stroke-width="2"/>
<rect x="1539" y="893" width="4" height="151" fill="#7cb5ec" stroke="#fff" stroke-width="2"/>
<rect x="1543" y="893" width="6" height="151" fill="#7cb5ec" stroke="#fff" stroke-width="2"/>
<rect x="1549" y="893" width="4" height="151" fill="#7cb5ec" stroke="#fff" stroke-width="2"/>
<rect x="1553" y="893" width="6" height="151" fill="#7cb5ec" stroke="#fff" stroke-width="2"/>
<rect x="1559" y="893" width="4" height="151" fill="#7cb5ec" stroke="#fff" stroke-width="2"/>
<rect x="1563" y="893" width="6" height="151" fill="#7cb5ec" stroke="#fff" stroke-width="2"/>
<rect x="1569" y="893" width="4" height="151" fill="#7cb5ec" stroke="#fff" stroke-width="2"/>
<rect x="1573" y="893" width="6" height="151" fill="#7cb5ec" stroke="#fff" stroke-width="2"/>
<rect x="1579" y="893" width="4" height="151" fill="#7cb5ec" stroke="#fff" stroke-width="2"/>
<rect x="1583" y="893" width="6" height="151" fill="#7cb5ec" stroke="#fff" stroke-width="2"/>
<rect x="1589" y="893" width="4" height="151" fill="#7cb5ec" stroke="#fff" stroke-width="2"/>
<rect x="1593" y="893" width="6" height="151" fill="#7cb5ec" stroke="#fff" stroke-width="2"/>
<rect x="1599" y="893" width="4" height="151" fill="#7cb5ec" stroke="#fff" stroke-width="2"/>
<rect x="1603" y="893" width="6" height="151" fill="#7cb5ec" stroke="#fff" stroke-width="2"/>
<rect x="1609" y="893" width="4" height="151" fill="#7cb5ec" stroke="#fff" stroke-width="2"/>
<rect x="1613" y="893" width="6" height="151" fill="#7cb5ec" stroke="#fff" stroke-width="2"/>
<rect x="1619" y="893" width="4" height="151" fill="#7cb5ec" stroke="#fff" stroke-width="2"/>
<rect x="1623" y="893" width="6" height="151" fill="#7cb5ec" stroke="#fff" stroke-width="2"/>
<rect x="1629" y="891" width="4" height="153" fill="#7cb5ec" stroke="#fff" stroke-width="2"/>
<rect x="1633" y="893" width="6" height="151" fill="#7cb5ec" stroke="#fff" stroke-width="2"/>
<rect x="1639" y="893" width="4" height="151" fill="#7cb5ec" stroke="#fff" stroke-width="2"/>
<rect x="1643" y="893" width="6" height="151" fill="#7cb5ec" stroke="#fff" stroke-width="2"/>
<rect x="1649" y="893" width="4" height="151" fill="#7cb5ec" stroke="#fff" stroke-width="2"/>
<rect x="1653" y="893" width="6" height="151" fill="#7cb5ec" stroke="#fff" stroke-width="2"/>
<rect x="1659" y="893" width="4" height="151" fill="#7cb5ec" stroke="#fff" stroke-width="2"/>
<rect x="1663" y="893" width="6" height="151" fill="#7cb5ec" stroke="#fff" stroke-width="2"/>
<rect x="1669" y="893" width="4" height="151" fill="#7cb5ec" stroke="#fff" stroke-width="2"/>
<rect x="1673" y="893" width="6" height="151" fill="#7cb5ec" stroke="#fff" stroke-width="2"/>
<rect x="1679" y="893" width="4" height="151" fill="#7cb5ec" stroke="#fff" stroke-width="2"/>
<rect x="1683" y="893" width="6" height="151" fill="#7cb5ec" stroke="#fff" stroke-width="2"/>
<rect x="1689" y="893" width="4" height="151" fill="#7cb5ec" stroke="#fff" stroke-width="2"/>
<rect x="1693" y="893" width="6" height="151" fill="#7cb5ec" stroke="#fff" stroke-width="2"/>
<rect x="1699" y="893" width="4" height="151" fill="#7cb5ec" stroke="#fff" stroke-width="2"/>
<rect x="1703" y="893" width="6" height="151" fill="#7cb5ec" stroke="#fff" stroke-width="2"/>
<rect x="1709" y="893" width="4" height="151" fill="#7cb5ec" stroke="#fff" stroke-width="2"/>
<rect x="1713" y="893" width="6" height="151" fill="#7cb5ec" stroke="#fff" stroke-width="2"/>
<rect x="1719" y="893" width="4" height="151" fill="#7cb5ec" stroke="#fff" stroke-width="2"/>
<rect x="1723" y="893" width="6" height="151" fill="#7cb5ec" stroke="#fff" stroke-width="2"/>
<rect x="1729" y="893" width="4" height="151" fill="#7cb5ec" stroke="#fff" stroke-width="2"/>
<rect x="1733" y="893" width="6" height="151" fill="#7cb5ec" stroke="#fff" stroke-width="2"/>
<rect x="1739" y="893" width="4" height="151" fill="#7cb5ec" stroke="#fff" stroke-width="2"/>
<rect x="1743" y="893" width="6" height="151" fill="#7cb5ec" stroke="#fff" stroke-width="2"/>
<rect x="1749" y="893" width="4" height="151" fill="#7cb5ec" stroke="#fff" stroke-width="2"/>
<rect x="1753" y="893" width="6" height="151" fill="#7cb5ec" stroke="#fff" stroke-width="2"/>
<rect x="1759" y="893" width="4" height="151" fill="#7cb5ec" stroke="#fff" stroke-width="2"/>
<rect x="1763" y="893" width="6" height="151" fill="#7cb5ec" stroke="#fff" stroke-width="2"/>
<rect x="1769" y="893" width="4" height="151" fill="#7cb5ec" stroke="#fff" stroke-width="2"/>
<rect x="1773" y="893" width="6" height="151" fill="#7cb5ec" stroke="#fff" stroke-width="2"/>
<rect x="1779" y="893" width="4" height="151" fill="#7cb5ec" stroke="#fff" stroke-width="2"/>
<rect x="1783" y="893" width="6" height="151" fill="#7cb5ec" stroke="#fff" stroke-width="2"/>
<rect x="1789" y="893" width="4" height="151" fill="#7cb5ec" stroke="#fff" stroke-width="2"/>
<rect x="1793" y="893" width="6" height="151" fill="#7cb5ec" stroke="#fff" stroke-width="2"/>
<rect x="1799" y="893" width="4" height="151" fill="#7cb5ec" stroke="#fff" stroke-width="2"/>
<rect x="1803" y="893" width="6" height="151" fill="#7cb5ec" stroke="#fff" stroke-width="2"/>
<rect x="1809" y="893" width="4" height="151" fill="#7cb5ec" stroke="#fff" stroke-width="2"/>
<rect x="1813" y="893" width="6" height="151" fill="#7cb5ec" stroke="#fff" stroke-width="2"/>
<rect x="1819" y="893" width="4" height="151" fill="#7cb5ec" stroke="#fff" stroke-width="2"/>
<rect x="1823" y="893" width="6" height="151" fill="#7cb5ec" stroke="#fff" stroke-width="2"/>
<rect x="1829" y="893" width="4" height="151" fill="#7cb5ec" stroke="#fff" stroke-width="2"/>
<rect x="1833" y="893" width="6" height="151" fill="#7cb5ec" stroke="#fff" stroke-width="2"/>
<rect x="1839" y="893" width="4" height="151" fill="#7cb5ec" stroke="#fff" stroke-width="2"/>
<rect x="1843" y="893" width="6" height="151" fill="#7cb5ec" stroke="#fff" stroke-width="2"/>
<rect x="1849" y="893" width="4" height="151" fill="#7cb5ec" stroke="#fff" stroke-width="2"/>
<rect x="1853" y="893" width="6" height="151" fill="#7cb5ec" stroke="#fff" stroke-width="2"/>
<rect x="1859" y="893" width="4" height="151" fill="#7cb5ec" stroke="#fff" stroke-width="2"/>
<rect x="1863" y="893" width="6" height="151" fill="#7cb5ec" stroke="#fff" stroke-width="2"/>
<rect x="1869" y="893" width="4" height="151" fill="#7cb5ec" stroke="#fff" stroke-width="2"/>
<rect x="1873" y="893" width="6" height="151" fill="#7cb5ec" stroke="#fff" stroke-width="2"/>
<rect x="1879" y="893" width="4" height="151" fill="#7cb5ec" stroke="#fff" stroke-width="2"/>
<rect x="1883" y="893" width="6" height="151" fill="#7cb5ec" stroke="#fff" stroke-width="2"/>
<rect x="1889" y="893" width="4" height="151" fill="#7cb5ec" stroke="#fff" stroke-width="2"/>
<rect x="1893" y="893" width="6" height="151" fill="#7cb5ec" stroke="#fff" stroke-width="2"/>
<rect x="1899" y="893" width="4" height="151" fill="#7cb5ec" stroke="#fff" stroke-width="2"/>
<rect x="1903" y="893" width="6" height="151" fill="#7cb5ec" stroke="#fff" stroke-width="2"/>
<rect x="1909" y="893" width="4" height="151" fill="#7cb5ec" stroke="#fff" stroke-width="2"/>
<rect x="1913" y="893" width="6" height="151" fill="#7cb5ec" stroke="#fff" stroke-width="2"/>
<rect x="1919" y="893" width="4" height="151" fill="#7cb5ec" stroke="#fff" stroke-width="2"/>
<rect x="1923" y="893" width="6" height="151" fill="#7cb5ec" stroke="#fff" stroke-width="2"/>
<rect x="1929" y="893" width="4" height="151" fill="#7cb5ec" stroke="#fff" stroke-width="2"/>
<rect x="1933" y="893" width="6" height="151" fill="#7cb5ec" stroke="#fff" stroke-width="2"/>
<rect x="1939" y="893" width="4" height="151" fill="#7cb5ec" stroke="#fff" stroke-width="2"/>
<rect x="1943" y="893" width="6" height="151" fill="#7cb5ec" stroke="#fff" stroke-width="2"/>
<rect x="1949" y="893" width="4" height="151" fill="#7cb5ec" stroke="#fff" stroke-width="2"/>
<rect x="1953" y="893" width="6" height="151" fill="#7cb5ec" stroke="#fff" stroke-width="2"/>
</g>
</svg>
<g shape-rendering="crispEdges">
<rect x="130" y="1044" width="1828" height="2" fill="#ccd6eb"/>
<rect x="186" y="1046" width="2" height="18" fill="#ccd6eb"/><rect x="340" y="1046" width="2" height="18" fill="#ccd6eb"/><rect x="480" y="1046" width="2" height="18" fill="#ccd6eb"/><rect x="634" y="1046" width="2" height="18" fill="#ccd6eb"/><rect x="784" y="1046" width="2" height="18" fill="#ccd6eb"/><rect x="940" y="1046" width="2" height="18" fill="#ccd6eb"/><rect x="1090" y="1046" width="2" height="18" fill="#ccd6eb"/><rect x="1244" y="1046" width="2" height="18" fill="#ccd6eb"/><rect x="1398" y="1046" width="2" height="18" fill="#ccd6eb"/><rect x="1548" y="1046" width="2" height="18" fill="#ccd6eb"/><rect x="1704" y="1046" width="2" height="18" fill="#ccd6eb"/><rect x="1854" y="1046" width="2" height="18" fill="#ccd6eb"/>
</g>
<text x="150.0" y="1082" textLength="71.9" lengthAdjust="spacingAndGlyphs" class="xl">Jan '25</text><text x="304.5" y="1082" textLength="74.9" lengthAdjust="spacingAndGlyphs" class="xl">Feb '25</text><text x="443.3" y="1082" textLength="76.9" lengthAdjust="spacingAndGlyphs" class="xl">Mar '25</text><text x="598.0" y="1082" textLength="76.3" lengthAdjust="spacingAndGlyphs" class="xl">Apr '25</text><text x="746.3" y="1082" textLength="79.7" lengthAdjust="spacingAndGlyphs" class="xl">May '25</text><text x="902.8" y="1082" textLength="74.4" lengthAdjust="spacingAndGlyphs" class="xl">Jun '25</text><text x="1056.7" y="1082" textLength="66.2" lengthAdjust="spacingAndGlyphs" class="xl">Jul '25</text><text x="1205.6" y="1082" textLength="80.4" lengthAdjust="spacingAndGlyphs" class="xl">Aug '25</text><text x="1363.0" y="1082" textLength="75.7" lengthAdjust="spacingAndGlyphs" class="xl">Sep '25</text><text x="1513.6" y="1082" textLength="73.7" lengthAdjust="spacingAndGlyphs" class="xl">Oct '25</text><text x="1665.9" y="1082" textLength="78.2" lengthAdjust="spacingAndGlyphs" class="xl">Nov '25</text><text x="1816.3" y="1082" textLength="77.5" lengthAdjust="spacingAndGlyphs" class="xl">Dec '25</text>
<g id="logo" transform="translate(862,555)">
<clipPath id="cc"><circle cx="32" cy="32.2" r="26"/></clipPath>
<g clip-path="url(#cc)">
<path d="M14 64L17 53.5C30 51.5 46 45 57.7 31L64 29V64Z" fill="#f5d98f"/>
<path d="M-2 -2H66V22H60C44 45 22 47.5 5 47.5L-2 47.5Z" fill="#87888a"/>
<path d="M16.8 49.5V30.3Q16.8 28.5 18.6 28.5H23Q24.8 28.5 24.8 30.3V48Z" fill="#fff"/>
<path d="M28 46.5V24.6Q28 22.8 29.8 22.8H34.1Q35.9 22.8 35.9 24.6V44.5Z" fill="#fff"/>
<path d="M39.1 43V18.9Q39.1 17.1 40.9 17.1H45.3Q47.1 17.1 47.1 18.9V39Z" fill="#fff"/>
</g>
</g>
<text x="930.4" y="587.4" font-size="33.4" font-weight="bold" fill="#808080" textLength="137.4" lengthAdjust="spacingAndGlyphs">BscScan</text>
<text x="930" y="607" font-size="14.1" font-weight="bold" fill="#8c8c8c" textLength="103" lengthAdjust="spacingAndGlyphs">A Scan Original</text>
</svg>
</body></html>
